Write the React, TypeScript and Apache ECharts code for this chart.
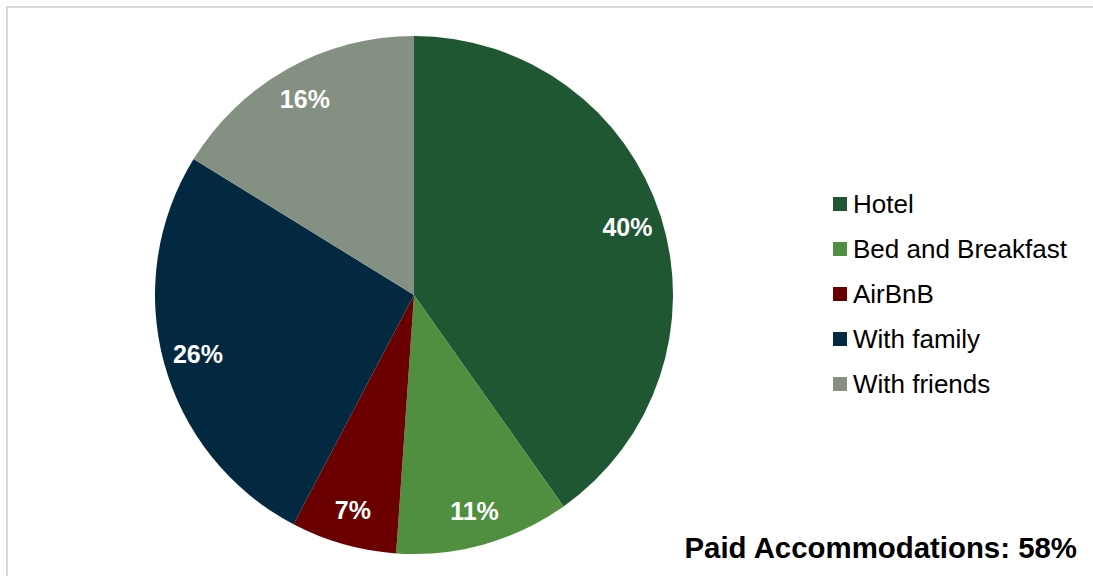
import React, { useEffect, useRef } from "react";
import * as echarts from "echarts";

const categories = ["Hotel", "Bed and Breakfast", "AirBnB", "With family", "With friends"];
const shares = [40.2, 10.9, 6.6, 26.1, 16.2];
const colors = ["#1f5733", "#4f8f3f", "#6a0000", "#032941", "#849182"];
const paidCategories = ["Hotel", "Bed and Breakfast", "AirBnB"];

export default function App() {
  const ref = useRef<HTMLDivElement>(null);
  useEffect(() => {
    if (!ref.current) return;
    const chart = echarts.init(ref.current, undefined, { renderer: "svg" });
    const data = categories.map((name, i) => ({
      name,
      value: shares[i],
      itemStyle: { color: colors[i] },
    }));
    const paid = Math.round(
      categories.reduce((s, c, i) => (paidCategories.includes(c) ? s + shares[i] : s), 0)
    );
    chart.setOption({
      animation: false,
      backgroundColor: "#ffffff",
      legend: {
        orient: "vertical",
        left: 828,
        top: 186,
        itemWidth: 14,
        itemHeight: 14,
        itemGap: 19,
        icon: "rect",
        selectedMode: false,
        textStyle: {
          fontFamily: "Liberation Sans, Arial, sans-serif",
          fontSize: 26,
          lineHeight: 26,
          color: "#000000",
          padding: [0, 0, 0, 1],
        },
        data: categories,
      },
      graphic: [
        {
          type: "rect",
          shape: { x: 7, y: 7, width: 1200, height: 700 },
          style: { fill: "none", stroke: "#d9d9d9", lineWidth: 2 },
          silent: true,
          z: -10,
        },
        {
          type: "text",
          x: 1077,
          y: 547,
          style: {
            text: `Paid Accommodations: ${paid}%`,
            fontFamily: "Liberation Sans, Arial, sans-serif",
            fontWeight: "bold",
            fontSize: 29.4,
            fill: "#000000",
            align: "right",
            verticalAlign: "middle",
          },
        },
      ],
      series: [
        {
          type: "pie",
          center: [414, 295],
          radius: [0, 259],
          startAngle: 90,
          clockwise: true,
          label: { show: false },
          labelLine: { show: false },
          itemStyle: { borderWidth: 0 },
          silent: true,
          data,
        },
        {
          type: "pie",
          center: [414, 295],
          radius: [0, 442],
          startAngle: 90,
          clockwise: true,
          silent: true,
          itemStyle: { color: "rgba(0,0,0,0)", borderWidth: 0 },
          label: {
            show: true,
            position: "inside",
            formatter: (p: any) => `${Math.round(p.value)}%`,
            fontFamily: "Liberation Sans Narrow, Arial Narrow, Liberation Sans, sans-serif",
            fontWeight: "bold",
            fontSize: 25,
            color: "#ffffff",
          },
          labelLine: { show: false },
          data: categories.map((name, i) => ({ name, value: shares[i] })),
          z: 5,
        },
      ],
    });
    return () => chart.dispose();
  }, []);
  return (
    <div
      ref={ref}
      style={{ position: "fixed", left: 0, top: 0, width: 1093, height: 576 }}
    />
  );
}
